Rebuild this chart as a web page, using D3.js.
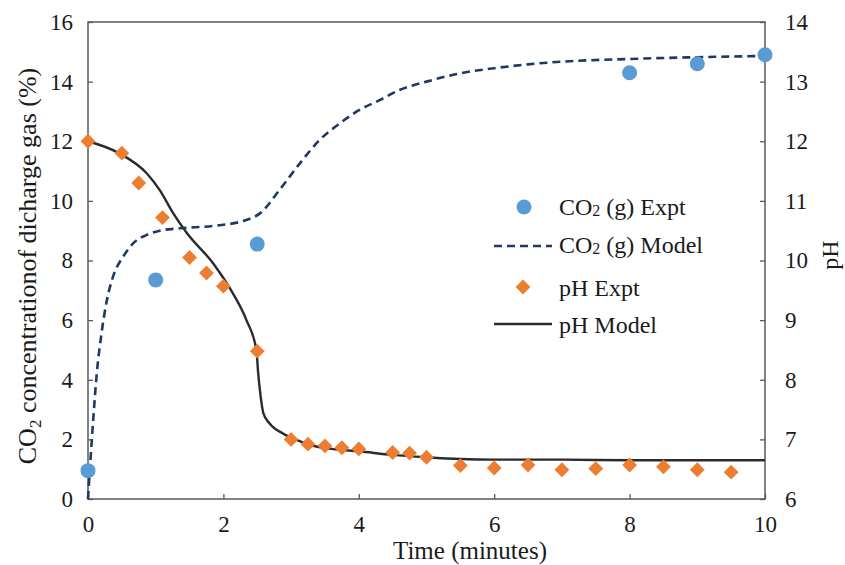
<!DOCTYPE html>
<html>
<head>
<meta charset="utf-8">
<script src="https://cdn.jsdelivr.net/npm/d3@7"></script>
<style>
  body { margin: 0; background: #fff; }
  svg, svg text, svg g { font-family: "Liberation Serif", Tinos, "Times New Roman", Times, serif !important; }
  svg text { fill: #1a1a1a; }
</style>
</head>
<body>
<svg id="chart" width="845" height="565" font-family="Liberation Serif"></svg>
<script>
// Experimental CO2 in discharge gas (%)
const co2ExptTime = [0, 1, 2.5, 8, 9, 10];
const co2ExptVal = [0.95, 7.35, 8.55, 14.3, 14.6, 14.9];

// Model CO2 curve (%)
const co2ModelTime = [0, 0.03, 0.08, 0.13, 0.2, 0.28, 0.37, 0.52, 0.67, 0.87, 1.06, 1.36, 1.85, 2.34, 2.54, 2.83, 3.13, 3.42, 3.72, 4.01, 4.31, 4.6, 5.0, 5.5, 6.0, 6.5, 7.0, 8.0, 9.0, 10];
const co2ModelVal = [0, 1.08, 2.76, 4.22, 5.56, 6.68, 7.46, 8.13, 8.58, 8.86, 9.0, 9.08, 9.16, 9.36, 9.58, 10.37, 11.26, 12.04, 12.6, 13.05, 13.38, 13.72, 14.0, 14.28, 14.45, 14.58, 14.67, 14.76, 14.82, 14.86];

// Experimental pH
const phExptTime = [0, 0.5, 0.75, 1.1, 1.5, 1.75, 2, 2.5, 3, 3.25, 3.5, 3.75, 4, 4.5, 4.75, 5, 5.5, 6, 6.5, 7, 7.5, 8, 8.5, 9, 9.5];
const phExptVal = [12.0, 11.8, 11.3, 10.72, 10.05, 9.79, 9.57, 8.48, 7.0, 6.92, 6.89, 6.86, 6.84, 6.78, 6.77, 6.70, 6.56, 6.52, 6.57, 6.49, 6.51, 6.57, 6.54, 6.49, 6.45];

// Model pH curve
const phModelTime = [0, 0.46, 0.87, 1.06, 1.26, 1.46, 1.85, 2.14, 2.34, 2.49, 2.51, 2.55, 2.59, 2.68, 2.88, 3.08, 3.27, 3.6, 4, 4.5, 5, 5.5, 6, 7, 8, 9, 10];
const phModelVal = [12.0, 11.8, 11.46, 11.18, 10.79, 10.46, 9.95, 9.45, 9.0, 8.48, 8.16, 7.72, 7.44, 7.27, 7.10, 6.99, 6.91, 6.84, 6.80, 6.74, 6.70, 6.67, 6.66, 6.66, 6.65, 6.65, 6.65];

const xTicks = [0, 2, 4, 6, 8, 10];
const yLeftTicks = [0, 2, 4, 6, 8, 10, 12, 14, 16];
const yRightTicks = [6, 7, 8, 9, 10, 11, 12, 13, 14];

const legendItems = ['CO2 Expt', 'CO2 Model', 'pH Expt', 'pH Model'];

const svg = d3.select('#chart');
const plotLeft = 88, plotRight = 765, plotTop = 22, plotBottom = 499;
const axisColor = '#595959';
const serif = '"Liberation Serif", Tinos, "Times New Roman", serif';
const fontSize = 23;

const x = d3.scaleLinear().domain([0, 10]).range([plotLeft, plotRight]);
const yL = d3.scaleLinear().domain([0, 16]).range([plotBottom, plotTop]);
const yR = d3.scaleLinear().domain([6, 14]).range([plotBottom, plotTop]);

// axes (ticks point inward like the original)
const gx = svg.append('g')
  .attr('transform', `translate(0,${plotBottom})`)
  .call(d3.axisBottom(x).tickValues(xTicks).tickSize(-5).tickPadding(17).tickFormat(d3.format('d')));
const gyL = svg.append('g')
  .attr('transform', `translate(${plotLeft},0)`)
  .call(d3.axisLeft(yL).tickValues(yLeftTicks).tickSize(-5).tickPadding(15).tickFormat(d3.format('d')));
const gyR = svg.append('g')
  .attr('transform', `translate(${plotRight},0)`)
  .call(d3.axisRight(yR).tickValues(yRightTicks).tickSize(-5).tickPadding(20).tickFormat(d3.format('d')));

[gx, gyL, gyR].forEach((g) => {
  g.attr('font-family', serif).attr('font-size', fontSize);
  g.select('.domain').remove();
  g.selectAll('.tick line').attr('stroke', axisColor).attr('stroke-width', 1.3);
  g.selectAll('.tick text').attr('fill', '#1a1a1a');
});

// frame
svg.append('rect')
  .attr('x', plotLeft).attr('y', plotTop)
  .attr('width', plotRight - plotLeft).attr('height', plotBottom - plotTop)
  .attr('fill', 'none').attr('stroke', axisColor).attr('stroke-width', 1.5);

// model lines
const co2Line = d3.line()
  .x((d) => x(d[0])).y((d) => yL(d[1]))
  .curve(d3.curveMonotoneX);
const phLine = d3.line()
  .x((d) => x(d[0])).y((d) => yR(d[1]))
  .curve(d3.curveMonotoneX);

svg.append('path')
  .datum(phModelTime.map((t, i) => [t, phModelVal[i]]))
  .attr('d', phLine)
  .attr('fill', 'none')
  .attr('stroke', '#2b2b2b')
  .attr('stroke-width', 2.4);

svg.append('path')
  .datum(co2ModelTime.map((t, i) => [t, co2ModelVal[i]]))
  .attr('d', co2Line)
  .attr('fill', 'none')
  .attr('stroke', '#1f3864')
  .attr('stroke-width', 2.6)
  .attr('stroke-dasharray', '8,5');

// experimental points
const diamond = d3.symbol().type(d3.symbolSquare).size(110);

svg.append('g')
  .selectAll('path')
  .data(phExptTime.map((t, i) => [t, phExptVal[i]]))
  .enter()
  .append('path')
  .attr('d', diamond)
  .attr('transform', (d) => `translate(${x(d[0])},${yR(d[1])}) rotate(45)`)
  .attr('fill', '#ed7d31');

svg.append('g')
  .selectAll('circle')
  .data(co2ExptTime.map((t, i) => [t, co2ExptVal[i]]))
  .enter()
  .append('circle')
  .attr('cx', (d) => x(d[0]))
  .attr('cy', (d) => yL(d[1]))
  .attr('r', 7.5)
  .attr('fill', '#5b9bd5');

// axis titles
svg.append('text')
  .attr('x', 470).attr('y', 559)
  .attr('text-anchor', 'middle')
  .attr('font-size', 25)
  .text('Time (minutes)');

const yTitle = svg.append('text')
  .attr('transform', 'translate(36,266) rotate(-90)')
  .attr('text-anchor', 'middle')
  .attr('font-size', 26);
yTitle.append('tspan').text('CO');
yTitle.append('tspan').attr('dy', 5).attr('font-size', 17).text('2');
yTitle.append('tspan').attr('dy', -5).text(' concentrationof dicharge gas (%)');

svg.append('text')
  .attr('transform', 'translate(838,255) rotate(-90)')
  .attr('text-anchor', 'middle')
  .attr('font-size', 24)
  .text('pH');

// legend
const legend = svg.append('g');
const lx = 559;
const rows = [215, 253, 296, 333];

legend.append('circle').attr('cx', 524).attr('cy', 207).attr('r', 7.5).attr('fill', '#5b9bd5');
legend.append('line').attr('x1', 494).attr('x2', 552).attr('y1', 246).attr('y2', 246)
  .attr('stroke', '#1f3864').attr('stroke-width', 2.6).attr('stroke-dasharray', '8,5');
legend.append('path').attr('d', diamond).attr('transform', 'translate(523,287) rotate(45)').attr('fill', '#ed7d31');
legend.append('line').attr('x1', 494).attr('x2', 552).attr('y1', 324).attr('y2', 324)
  .attr('stroke', '#2b2b2b').attr('stroke-width', 2.4);

legendItems.forEach((name, i) => {
  const t = legend.append('text').attr('x', lx).attr('y', rows[i]).attr('font-size', 24);
  if (name.startsWith('CO2')) {
    t.append('tspan').text('CO');
    t.append('tspan').attr('dy', 1).attr('font-size', 16).text('2');
    t.append('tspan').attr('dy', -1).text(' (g) ' + (name.endsWith('Model') ? 'Model' : 'Expt'));
  } else {
    t.text(name);
  }
});
</script>
</body>
</html>
